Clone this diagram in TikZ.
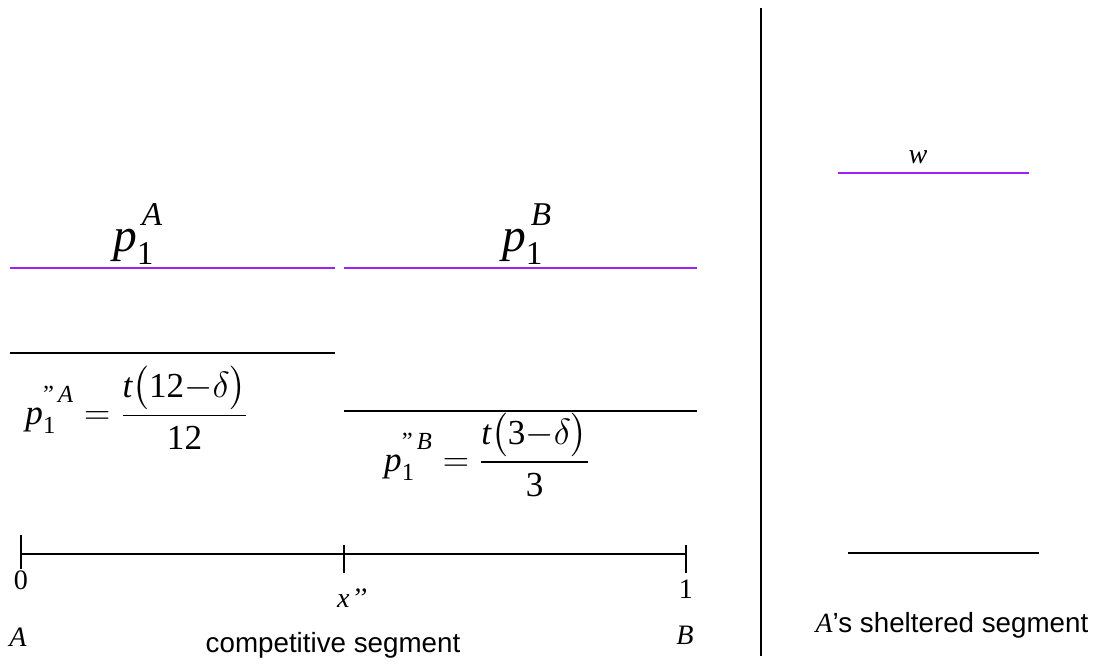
\documentclass[tikz,border=0pt]{standalone}
\usepackage{amsmath}
\usepackage{fontspec}
\setmainfont{Liberation Serif}
\newfontfamily\arialfont{Liberation Sans}
\usetikzlibrary{positioning}
\definecolor{pricepurple}{HTML}{A020F0}
\newcommand\tn[1]{\text{\upshape #1}}
\newcommand\hisup[1]{^{\raisebox{0.2em}{$\scriptstyle\,\mathit{#1}$}}}
\newcommand\dqsup[1]{^{\raisebox{0.25em}{$\scriptstyle\tn{"}\,\mathit{#1}$}}}
\tikzset{
  priceline/.style={line width=1.2pt,draw=#1},
  priceline/.default=black,
  axisline/.style={line width=1pt,draw=black},
  mathlabel/.style={inner sep=0pt,font=\fontsize{16}{19}\selectfont},
  fraclabel/.style={inner sep=0pt,font=\fontsize{20}{24}\selectfont},
  biglabel/.style={inner sep=0pt,font=\fontsize{27}{32}\selectfont},
  textlabel/.style={inner sep=0pt,font=\fontsize{15.8}{19}\selectfont}
}

\begin{document}
\begin{tikzpicture}[x=0.02cm,y=-0.02cm]
\useasboundingbox (0,0) rectangle (1101,666);
% divider between the two segments
\draw[axisline] (761,8) -- (761,656);
% prices in the competitive segment
\draw[priceline=pricepurple] (10,268) -- (335,268);
\draw[priceline=pricepurple] (344,268) -- (697,268);
\draw[priceline] (10,353) -- (335,353);
\draw[priceline] (344,411) -- (697,411);
\node[biglabel,anchor=base] (lblpA) at (138,251) {$\mathit{p}_{\tn{1}}\hisup{A}$};
\node[biglabel,anchor=base] (lblpB) at (527,251) {$\mathit{p}_{\tn{1}}\hisup{B}$};
\node[fraclabel] (fracA) at (137,408) {$\mathit{p}_{\tn{1}}\dqsup{A}=\dfrac{\mathit{t}\bigl(\tn{12}{-}\delta\bigr)}{\tn{12}}$};
\node[fraclabel] (fracB) at (487,455) {$\mathit{p}_{\tn{1}}\dqsup{B}=\dfrac{\mathit{t}\bigl(\tn{3}{-}\delta\bigr)}{\tn{3}}$};
% the segment [0,1]
\draw[axisline] (21,554) -- (686,554);
\draw[axisline] (21,535) -- (21,569);
\draw[axisline] (344,545) -- (344,573);
\draw[axisline] (686,545) -- (686,573);
\node[mathlabel] (zero) at (21,580) {0};
\node[mathlabel] (xpp) at (352,598) {$\mathit{x}$\kern1pt\textit{’’}};
\node[mathlabel] (one) at (686,589) {1};
\node[mathlabel] (endA) at (18,637) {\textit{A}};
\node[mathlabel] (endB) at (685,635) {\textit{B}};
\node[textlabel] (compseg) at (333,645) {\arialfont competitive segment};
% sheltered segment
\draw[priceline=pricepurple] (838,173) -- (1029,173);
\node[mathlabel,anchor=base] (lblw) at (918,163) {$\mathit{w}$};
\draw[priceline] (848,553) -- (1039,553);
\node[textlabel] (shelseg) at (952,625) {\textit{A}{\arialfont ’s sheltered segment}};
\end{tikzpicture}
\end{document}
